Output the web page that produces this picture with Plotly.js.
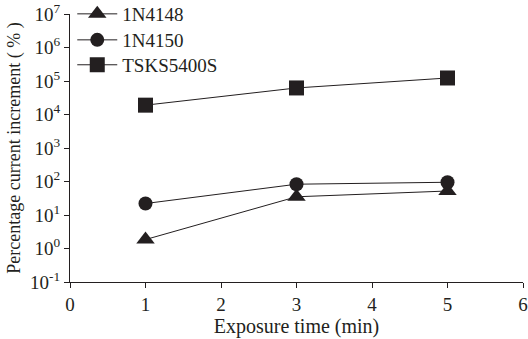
<!DOCTYPE html>
<html><head><meta charset="utf-8">
<script src="https://cdn.plot.ly/plotly-3.0.1.min.js"></script>
<style>body{margin:0;background:#fff}#chart{width:528px;height:339px}</style>
</head><body><div id="chart"></div>
<script>
const exposureTime = [1, 3, 5];
const series1N4148 = [1.85, 35, 52];
const series1N4150 = [22, 83, 95];
const seriesTSKS5400S = [19000, 62000, 123000];
const seriesNames = ['1N4148', '1N4150', 'TSKS5400S'];
const yTickVals = [0.1, 1, 10, 100, 1000, 1e4, 1e5, 1e6, 1e7];
const yTickText = ['10<sup>-1</sup>', '10<sup>0</sup>', '10<sup>1</sup>', '10<sup>2</sup>', '10<sup>3</sup>', '10<sup>4</sup>', '10<sup>5</sup>', '10<sup>6</sup>', '10<sup>7</sup>'];

const fc = '#231f20';
const fam = '"Liberation Serif", "Times New Roman", serif';
function tr(name, y, sym, size, leg) {
  return {x: exposureTime, y: y, name: name, type: 'scatter', mode: 'lines+markers', legend: leg,
    line: {color: fc, width: 1}, marker: {symbol: sym, size: size, color: fc}};
}
const data = [
  tr(seriesNames[0], series1N4148, 'triangle-up', 16, 'legend'),
  tr(seriesNames[1], series1N4150, 'circle', 14, 'legend2'),
  tr(seriesNames[2], seriesTSKS5400S, 'square', 15, 'legend3')
];
function leg(y) {
  return {x: 0.005, y: y, xanchor: 'left', yanchor: 'middle', bgcolor: 'rgba(0,0,0,0)',
    font: {family: fam, size: 19, color: fc}, itemwidth: 40};
}
const layout = {
  width: 528, height: 339,
  margin: {l: 70, r: 5, t: 14, b: 57, autoexpand: false},
  paper_bgcolor: '#fff', plot_bgcolor: '#fff',
  font: {family: fam, size: 18, color: fc},
  showlegend: true,
  legend: leg(1.0), legend2: leg(0.903), legend3: leg(0.81),
  xaxis: {range: [0, 6], tickvals: [0,1,2,3,4,5,6], showgrid: false, zeroline: false, automargin: false,
    showline: true, linecolor: fc, linewidth: 1, ticks: 'outside', ticklen: 5, tickcolor: fc,
    tickfont: {family: fam, size: 19, color: fc},
    title: {text: 'Exposure time (min)', font: {family: fam, size: 20, color: fc}, standoff: 2}},
  yaxis: {type: 'log', range: [-1, 7], tickvals: yTickVals, ticktext: yTickText, showgrid: false, zeroline: false, automargin: false,
    showline: true, linecolor: fc, linewidth: 1, ticks: 'outside', ticklen: 5, tickcolor: fc,
    tickfont: {family: fam, size: 19, color: fc},
    title: {text: 'Percentage current increment ( % )', font: {family: fam, size: 18, color: fc}, standoff: 4}}
};
Plotly.newPlot('chart', data, layout, {displayModeBar: false, staticPlot: true});
</script></body></html>
